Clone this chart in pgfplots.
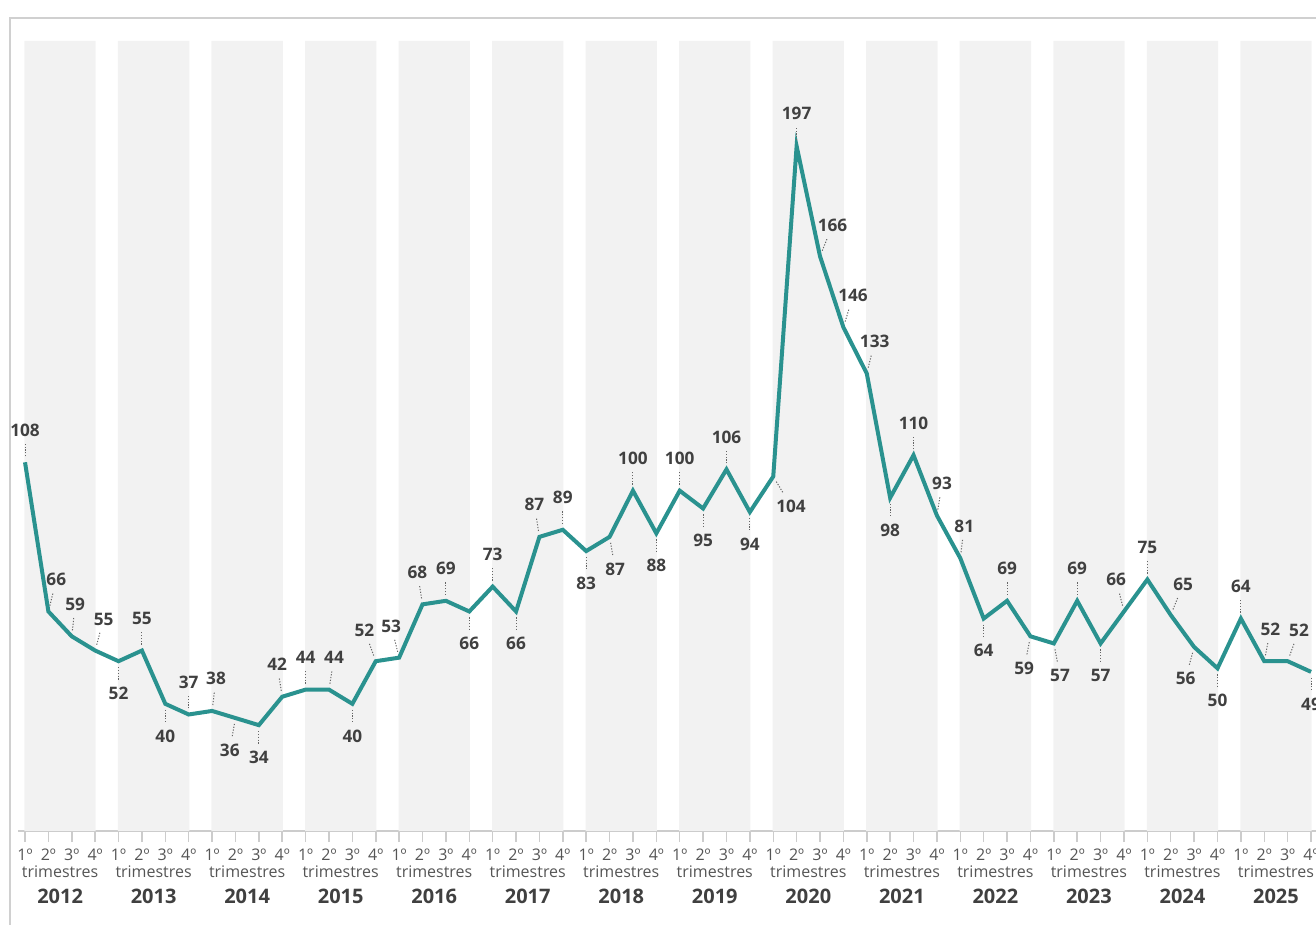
\documentclass[border=0pt]{standalone}
\usepackage{pgfplots}
\pgfplotsset{compat=1.18}
\usepackage{fontspec}
\setmainfont{Open Sans}

\definecolor{lineteal}{HTML}{2A928F}
\definecolor{bandgray}{HTML}{F2F2F2}
\definecolor{axisgray}{HTML}{CCCCCC}
\definecolor{framegray}{HTML}{D0D0D0}
\definecolor{labeltext}{HTML}{404040}
\definecolor{ticktext}{HTML}{555555}
\definecolor{leadergray}{HTML}{666666}

% quarter index, value, direction of the label from the point, anchor of the label
\pgfplotstableread{
x y ang anc
0 108 90 270
1 66 76 256
2 59 84 264
3 55 75 255
4 52 270 90
5 55 90 270
6 40 270 90
7 37 90 270
8 38 83 263
9 36 260 80
10 34 270 90
11 42 99 279
12 44 90 270
13 44 81 261
14 40 270 90
15 52 110 290
16 53 104 284
17 68 99 279
18 69 90 270
19 66 270 90
20 73 90 270
21 66 270 90
22 87 99 279
23 89 90 270
24 83 270 90
25 87 280 100
26 100 90 270
27 88 270 90
28 100 90 270
29 95 270 90
30 106 90 270
31 94 270 90
32 104 301 121
33 197 90 270
34 166 68 248
35 146 73 253
36 133 76 256
37 98 270 90
38 110 90 270
39 93 81 261
40 81 83 263
41 64 270 90
42 69 90 270
43 59 259 79
44 57 281 101
45 69 90 270
46 57 270 90
47 66 104 284
48 75 90 270
49 65 68 248
50 56 255 75
51 50 270 90
52 64 90 270
53 52 79 259
54 52 70 250
55 49 270 90
}\quarters

% one shaded band per year
\pgfplotstableread{
x y
1.5 226.6
5.5 226.6
9.5 226.6
13.5 226.6
17.5 226.6
21.5 226.6
25.5 226.6
29.5 226.6
33.5 226.6
37.5 226.6
41.5 226.6
45.5 226.6
49.5 226.6
53.5 226.6
}\bands

\newcommand{\yr}[1]{trimestres\\[1.5pt]{\fontsize{10}{11.5}\selectfont\bfseries\color{labeltext}#1}}

\begin{document}
\begin{tikzpicture}
\useasboundingbox (-9pt,-47pt) rectangle (649pt,415.5pt);
\clip (-9pt,-47pt) rectangle (649pt,415.5pt);
\draw[framegray, line width=1pt] (-4pt,-60pt) -- (-4pt,406.5pt) -- (700pt,406.5pt);
\begin{axis}[
    at={(0pt,0pt)}, anchor=south west,
    scale only axis,
    width=658.2pt, height=395pt,
    xmin=-0.3, xmax=56,
    ymin=4.2, ymax=226.6,
    axis x line*=bottom,
    axis y line=none,
    x axis line style={draw=axisgray, line width=1pt},
    ytick=\empty,
    xtick={0,...,55},
    xticklabels={1º,2º,3º,4º,1º,2º,3º,4º,1º,2º,3º,4º,1º,2º,3º,4º,1º,2º,3º,4º,1º,2º,3º,4º,1º,2º,3º,4º,
                 1º,2º,3º,4º,1º,2º,3º,4º,1º,2º,3º,4º,1º,2º,3º,4º,1º,2º,3º,4º,1º,2º,3º,4º,1º,2º,3º,4º},
    tick align=outside,
    major tick length=5.5pt,
    tick style={draw=axisgray, line width=0.75pt},
    xticklabel style={font=\fontsize{8}{11.5}\selectfont, text=ticktext},
    extra x ticks={1.5,5.5,9.5,13.5,17.5,21.5,25.5,29.5,33.5,37.5,41.5,45.5,49.5,53.5},
    extra x tick labels={\yr{2012},\yr{2013},\yr{2014},\yr{2015},\yr{2016},\yr{2017},\yr{2018},
        \yr{2019},\yr{2020},\yr{2021},\yr{2022},\yr{2023},\yr{2024},\yr{2025}},
    extra x tick style={major tick length=0pt,
        xticklabel style={align=center, yshift=-14pt}},
    /pgf/number format/assume math mode=true,
]

% year bands
\addplot[ybar, bar width=3.05, bar shift=0pt, fill=bandgray, draw=none]
    table[x=x, y=y] {\bands};

% quarterly series with labelled points
\addplot[lineteal, line width=2pt, mark=none,
    point meta=\thisrow{y},
    visualization depends on={\thisrow{ang} \as \pinang},
    visualization depends on={\thisrow{anc} \as \pinanc},
    nodes near coords={},
    every node near coord/.append style={circle, inner sep=0pt, minimum size=4pt, anchor=center,
        pin={[pin distance=6.5pt, inner sep=2.5pt, text=labeltext, anchor=\pinanc,
              font=\fontsize{8.6}{10}\selectfont\bfseries,
              pin edge={draw=leadergray, line width=0.5pt, dash pattern=on 0.6pt off 0.8pt}]
             \pinang:\pgfmathprintnumber[assume math mode=true,int detect]{\pgfplotspointmeta}}},
] table[x=x, y=y] {\quarters};

\end{axis}
\end{tikzpicture}
\end{document}
